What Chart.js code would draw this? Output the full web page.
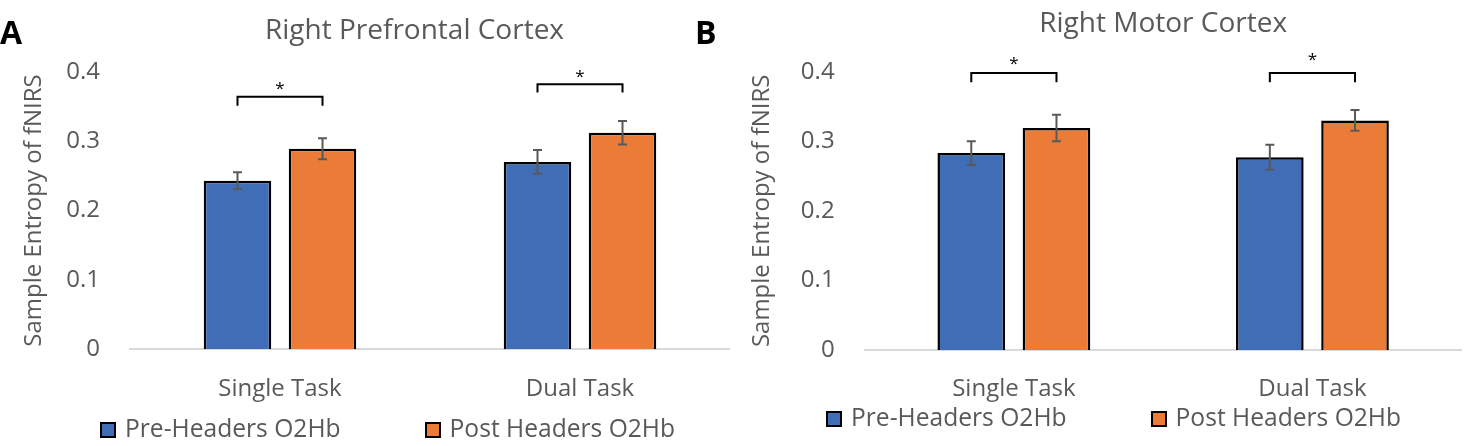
<!DOCTYPE html>
<html><head><meta charset="utf-8">
<script src="https://cdn.jsdelivr.net/npm/chart.js@4.4.1/dist/chart.umd.min.js"></script>
<style>
html,body{margin:0;padding:0;background:#fff;}
body{width:1467px;height:446px;position:relative;overflow:hidden;font-family:"Open Sans",sans-serif;}
.panel{position:absolute;top:0;height:446px;}
#pa{left:0;width:730px;}
#pb{left:730px;width:737px;}
canvas{display:block;}
.tag{position:absolute;font:bold 32px/32px "Open Sans";color:#000;}
.legend{position:absolute;display:flex;gap:84px;font:24.6px/24px "Open Sans";color:#595959;white-space:nowrap;}
.item{position:relative;padding-left:25px;height:24px;}
.sw{position:absolute;left:0;top:6px;width:16px;height:16px;box-sizing:border-box;border:2px solid #000;}
</style></head><body>
<div class="panel" id="pa"><canvas id="ca" width="730" height="446"></canvas></div>
<div class="panel" id="pb"><canvas id="cb" width="737" height="446"></canvas></div>
<div class="tag" style="left:0px;top:16px">A</div>
<div class="tag" style="left:695px;top:16px">B</div>
<div class="legend" id="la" style="left:100px;top:416px"></div>
<div class="legend" id="lb" style="left:826px;top:405px"></div>
<script>
const categories = ["Single Task", "Dual Task"];
const seriesNames = ["Pre-Headers O2Hb", "Post Headers O2Hb"];
const seriesColors = ["#3F6DB6", "#EB7C37"];
const yTickValues = [0, 0.1, 0.2, 0.3, 0.4];
const yTickLabels = ["0", "0.1", "0.2", "0.3", "0.4"];
const titleA = "Right Prefrontal Cortex";
const titleB = "Right Motor Cortex";
const yTitle = "Sample Entropy of fNIRS";

// Panel A: Right Prefrontal Cortex
const preA = [0.243, 0.270];
const postA = [0.289, 0.312];
const preErrA = [0.012, 0.017];
const postErrA = [0.015, 0.017];
const bracketA = [0.364, 0.382];
const bracketDropA = [0.351, 0.370];
const starA = [0.382, 0.399];

// Panel B: Right Motor Cortex
const preB = [0.283, 0.277];
const postB = [0.319, 0.330];
const preErrB = [0.017, 0.018];
const postErrB = [0.019, 0.015];
const bracketB = [0.398, 0.398];
const bracketDropB = [0.385, 0.385];
const starB = [0.418, 0.423];

const starLabel = "*";

Chart.defaults.font.family = '"Open Sans", sans-serif';
const GRAY = '#595959';

function makeChart(id, title, pre, post, preErr, postErr, brTop, brDrop, starY, L) {
  const extras = {
    id: 'extras' + id,
    afterLayout(chart) {
      const t = chart.titleBlock;
      if (t) { t.left += L.titleDx; t.right += L.titleDx; }
    },
    afterDatasetsDraw(chart) {
      const ctx = chart.ctx, ys = chart.scales.y;
      const errs = [preErr, postErr];
      ctx.save();
      ctx.strokeStyle = GRAY; ctx.lineWidth = 2; ctx.lineCap = 'butt';
      chart.data.datasets.forEach((ds, i) => {
        chart.getDatasetMeta(i).data.forEach((bar, j) => {
          const v = ds.data[j], e = errs[i][j];
          const y1 = ys.getPixelForValue(v + e), y2 = ys.getPixelForValue(v - e);
          ctx.beginPath();
          ctx.moveTo(bar.x, y1); ctx.lineTo(bar.x, y2);
          ctx.moveTo(bar.x - 4.5, y1); ctx.lineTo(bar.x + 4.5, y1);
          ctx.moveTo(bar.x - 4.5, y2); ctx.lineTo(bar.x + 4.5, y2);
          ctx.stroke();
        });
      });
      ctx.strokeStyle = '#000'; ctx.fillStyle = '#000'; ctx.lineWidth = 2;
      ctx.lineJoin = 'miter';
      ctx.font = '17px "Open Sans"'; ctx.textAlign = 'center'; ctx.textBaseline = 'alphabetic';
      categories.forEach((c, j) => {
        const x1 = chart.getDatasetMeta(0).data[j].x, x2 = chart.getDatasetMeta(1).data[j].x;
        const yt = ys.getPixelForValue(brTop[j]), yd = ys.getPixelForValue(brDrop[j]);
        ctx.beginPath();
        ctx.moveTo(x1, yd); ctx.lineTo(x1, yt); ctx.lineTo(x2, yt); ctx.lineTo(x2, yd);
        ctx.stroke();
        ctx.fillText(starLabel, (x1 + x2) / 2, ys.getPixelForValue(starY[j]) + 9.5);
      });
      ctx.restore();
    }
  };
  const ds = (k, data) => ({
    label: seriesNames[k], data, backgroundColor: seriesColors[k],
    borderColor: '#000', borderWidth: 2.5, borderSkipped: 'bottom',
    categoryPercentage: L.catPct, barPercentage: 0.794
  });
  return new Chart(document.getElementById(id), {
    type: 'bar',
    data: { labels: categories, datasets: [ds(0, pre), ds(1, post)] },
    options: {
      responsive: false, animation: false, devicePixelRatio: 1,
      layout: { padding: { left: 0, right: L.padRight, top: 0, bottom: 0 } },
      plugins: {
        legend: { display: false },
        tooltip: { enabled: false },
        title: {
          display: true, text: title, fullSize: false, color: GRAY,
          font: { size: 28, weight: 'normal' },
          padding: { top: L.tPadTop, bottom: L.tPadBot }
        }
      },
      scales: {
        x: {
          grid: { display: false, drawTicks: false },
          border: { display: true, color: '#D9D9D9', width: 2 },
          ticks: { color: GRAY, font: { size: 24 }, padding: 25 },
          afterFit(s) { s.height = L.xH; }
        },
        y: {
          min: 0, max: 0.4,
          afterBuildTicks(s) { s.ticks = yTickValues.map(v => ({ value: v })); },
          grid: { display: false },
          border: { display: false },
          ticks: { color: GRAY, font: { size: 24 }, padding: 22,
                   callback: (v, i) => yTickLabels[i] },
          title: { display: true, text: yTitle, color: GRAY, font: { size: 24 },
                   padding: { top: L.yTitlePad, bottom: 0 } },
          afterFit(s) { s.width = L.yW; }
        }
      }
    },
    plugins: [extras]
  });
}

makeChart('ca', titleA, preA, postA, preErrA, postErrA, bracketA, bracketDropA, starA,
  { catPct: 0.5667, padRight: 0, yW: 130, xH: 96.7, tPadTop: 13.8, tPadBot: 24.3, titleDx: -15.5, yTitlePad: 19.6 });
makeChart('cb', titleB, preB, postB, preErrB, postErrB, bracketB, bracketDropB, starB,
  { catPct: 0.5707, padRight: 5.3, yW: 134.6, xH: 96, tPadTop: 7.3, tPadBot: 30.8, titleDx: 0, yTitlePad: 17.6 });

function buildLegend(elId) {
  const el = document.getElementById(elId);
  seriesNames.forEach((n, k) => {
    const it = document.createElement('div'); it.className = 'item';
    const sw = document.createElement('span'); sw.className = 'sw'; sw.style.background = seriesColors[k];
    it.appendChild(sw); it.appendChild(document.createTextNode(n));
    el.appendChild(it);
  });
}
buildLegend('la'); buildLegend('lb');
</script>
</body></html>
